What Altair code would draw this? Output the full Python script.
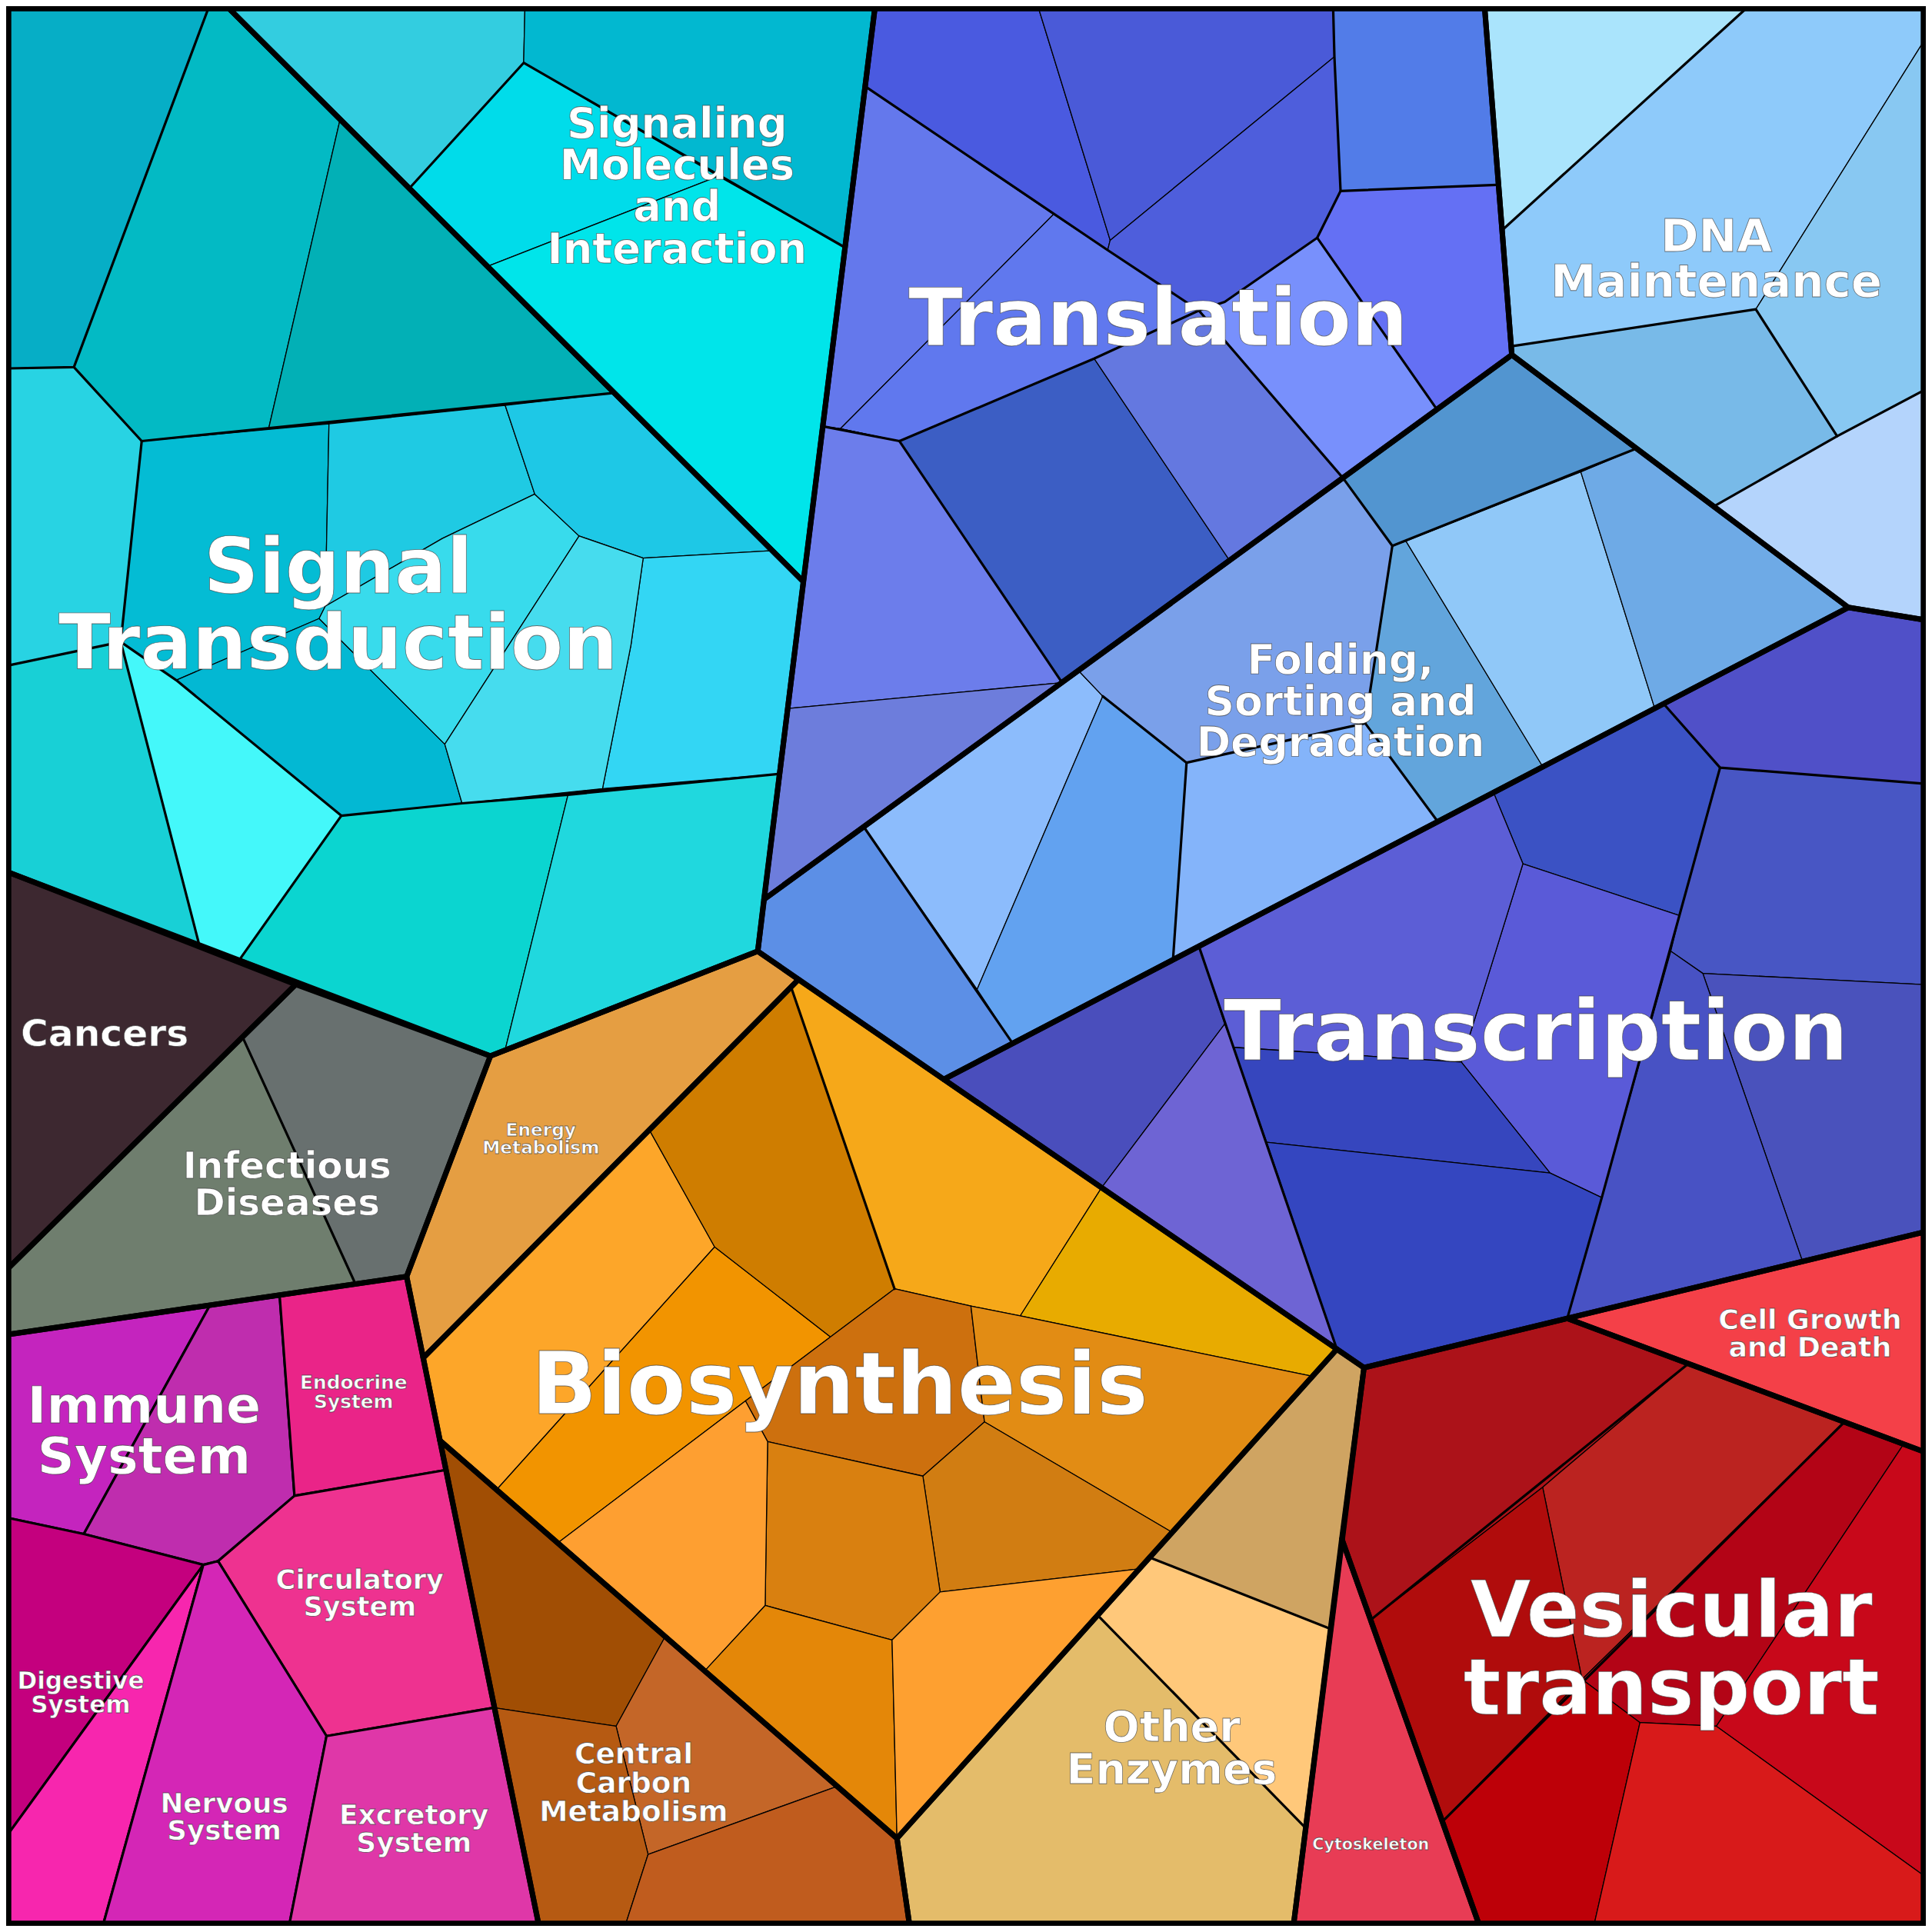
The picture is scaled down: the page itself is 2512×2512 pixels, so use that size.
import altair as alt

# ---------------- scale (picture units -> chart pixels) ----------------
K = 2512 / 1568.0
OFF = 8.0
W = 2496
LO = OFF / K
HI = (W + OFF) / K

# ---------------- data: cells (polygon vertices) ----------------
SIGNAL_COLORS = ["#06aec6", "#03bac4", "#02b0b6", "#28d3e3", "#18d0d6", "#44f8fa", "#04bcd4",
                 "#03b8d3", "#1fcae3", "#38dbec", "#1ec8e6", "#33d6f4", "#46dcee", "#0bd5d0", "#20d8de"]
SIGNAL_CELLS = [
    [(7, 7), (169, 7), (60, 298), (7, 299)],
    [(169, 7), (186, 7), (276, 97), (218, 348), (115, 358), (60, 298)],
    [(276, 97), (497, 319), (218, 348)],
    [(7, 299), (60, 298), (115, 358), (98, 521), (7, 540)],
    [(7, 540), (98, 521), (162, 768), (7, 708)],
    [(98, 521), (143, 552), (277, 662), (195, 778), (162, 768)],
    [(115, 358), (267, 344), (264, 492), (259, 502), (143, 552), (98, 521)],
    [(143, 552), (259, 502), (361, 604), (375, 652), (277, 662)],
    [(267, 344), (410, 329), (434, 401), (359, 437), (264, 492)],
    [(264, 492), (359, 437), (434, 401), (470, 435), (361, 604), (259, 502)],
    [(410, 329), (497, 319), (625, 447), (522, 453), (470, 435), (434, 401)],
    [(522, 453), (625, 447), (652, 472), (633, 628), (489, 640), (512, 524)],
    [(470, 435), (522, 453), (512, 524), (489, 640), (375, 652), (361, 604)],
    [(277, 662), (375, 652), (461, 645), (410, 852), (398, 857), (195, 778)],
    [(461, 645), (633, 628), (615, 772), (410, 852)],
]
SIGMOL_COLORS = ["#33cde0", "#02b8d0", "#00dcea", "#00e5ea"]
SIGMOL_CELLS = [
    [(186, 7), (426, 7), (425, 51), (333, 152)],
    [(426, 7), (710, 7), (686, 201), (583, 143), (425, 51)],
    [(425, 51), (583, 143), (396, 216), (333, 152)],
    [(396, 216), (583, 143), (686, 201), (652, 472)],
]
DISEASE_COLORS = ["#3d2830", "#68706f", "#6f7e6e"]
DISEASE_CELLS = [
    [(7, 708), (240, 799), (7, 1029)],
    [(240, 799), (398, 857), (330, 1036), (288, 1041), (197, 842)],
    [(197, 842), (288, 1041), (7, 1083), (7, 1029)],
]
ORGANISM_COLORS = ["#c424be", "#bf2dae", "#ea2488", "#ee3290", "#c4007e", "#f726ae", "#d426b6", "#df37a8"]
ORGANISM_CELLS = [
    [(7, 1083), (170, 1060), (68, 1245), (7, 1232)],
    [(170, 1060), (227, 1052), (239, 1214), (177, 1267), (165, 1270), (68, 1245)],
    [(227, 1052), (330, 1036), (362, 1193), (239, 1214)],
    [(239, 1214), (362, 1193), (401, 1386), (265, 1409), (177, 1267)],
    [(7, 1232), (68, 1245), (165, 1270), (7, 1488)],
    [(165, 1270), (84, 1561), (7, 1561), (7, 1488)],
    [(165, 1270), (177, 1267), (265, 1409), (235, 1561), (84, 1561)],
    [(265, 1409), (401, 1386), (437, 1561), (235, 1561)],
]
ENERGY_COLORS = ["#e59e42"]
ENERGY_CELLS = [
    [(330, 1036), (398, 857), (615, 772), (648, 795), (343.5, 1102)],
]
BIOSYN_COLORS = ["#fda629", "#f29400", "#cf7d00", "#f6a819", "#e8ab00", "#cd700e",
                 "#e28c14", "#d17d12", "#d98010", "#fe9f31", "#e48708", "#fea030"]
BIOSYN_CELLS = [
    [(343.5, 1102), (527, 917), (580, 1012), (404, 1208), (357, 1169)],
    [(404, 1208), (580, 1012), (674, 1085), (605, 1137), (453, 1252)],
    [(527, 917), (642, 801), (726, 1046), (674, 1085), (580, 1012)],
    [(642, 801), (648, 795), (894, 964), (828, 1068), (788, 1060), (726, 1046)],
    [(894, 964), (1085, 1095), (1065, 1117), (828, 1068)],
    [(674, 1085), (726, 1046), (788, 1060), (799, 1154), (749, 1198), (623, 1170), (605, 1137)],
    [(788, 1060), (828, 1068), (1065, 1117), (952, 1244), (799, 1154)],
    [(799, 1154), (952, 1244), (927, 1273), (763, 1292), (749, 1198)],
    [(623, 1170), (749, 1198), (763, 1292), (724, 1331), (621, 1303)],
    [(453, 1252), (605, 1137), (623, 1170), (621, 1303), (572, 1356)],
    [(621, 1303), (724, 1331), (728, 1492), (572, 1356)],
    [(724, 1331), (763, 1292), (927, 1273), (728, 1492)],
]
CARBON_COLORS = ["#a14e04", "#c46628", "#b65a12", "#c05c1e"]
CARBON_CELLS = [
    [(357, 1169), (540, 1328), (500, 1401), (401, 1386), (362, 1193)],
    [(540, 1328), (679, 1450), (526, 1505), (500, 1401)],
    [(401, 1386), (500, 1401), (526, 1505), (508, 1561), (437, 1561)],
    [(526, 1505), (679, 1450), (728, 1492), (738, 1561), (508, 1561)],
]
ENZYME_COLORS = ["#cfa462", "#ffc87a", "#e4bc6a"]
ENZYME_CELLS = [
    [(1085, 1095), (1107, 1110), (1080, 1322), (933, 1264)],
    [(933, 1264), (1080, 1322), (1060, 1484), (891, 1311)],
    [(891, 1311), (1060, 1484), (1050, 1561), (738, 1561), (728, 1492)],
]
TRANSL_COLORS = ["#4a5ae0", "#4a5ad8", "#4e5edc", "#6478ec", "#6078ee", "#7890fc",
                 "#3c5ec4", "#6470f4", "#527ce8", "#6478e0", "#6c7deb", "#6d7ddc"]
TRANSL_CELLS = [
    [(710, 7), (843, 7), (901, 195), (899, 203), (702, 70)],
    [(843, 7), (1082, 7), (1083, 46), (901, 195)],
    [(901, 195), (1083, 46), (1088, 155), (1069, 193), (994, 245), (973, 252), (899, 203)],
    [(702, 70), (855, 174), (682, 348), (668, 346)],
    [(855, 174), (899, 203), (973, 252), (888, 291), (730, 358), (682, 348)],
    [(1069, 193), (1166, 332), (1090, 388), (973, 252), (994, 245)],
    [(730, 358), (888, 291), (998, 455), (862, 554)],
    [(1088, 155), (1215, 150), (1227, 288), (1166, 332), (1069, 193)],
    [(1082, 7), (1205, 7), (1215, 150), (1088, 155), (1083, 46)],
    [(888, 291), (973, 252), (1090, 388), (998, 455)],
    [(668, 346), (682, 348), (730, 358), (862, 554), (640, 575)],
    [(640, 575), (862, 554), (620, 730)],
]
DNA_COLORS = ["#aae4fc", "#8ecafa", "#88c8f2", "#78bae8", "#b4d4fc"]
DNA_CELLS = [
    [(1205, 7), (1417, 7), (1220, 186)],
    [(1417, 7), (1561, 7), (1561, 34), (1425, 251), (1227, 281), (1220, 186)],
    [(1561, 34), (1561, 317), (1491, 354), (1425, 251)],
    [(1227, 281), (1425, 251), (1491, 354), (1391, 411), (1227, 288)],
    [(1491, 354), (1561, 317), (1561, 503), (1500, 493), (1391, 411)],
]
FOLD_COLORS = ["#5c8fe6", "#8cbcfc", "#62a2f0", "#7aa0ea", "#84b4fa", "#62a5dc", "#90c8f8", "#6eaae6", "#5295d0"]
FOLD_CELLS = [
    [(620, 730), (701, 671), (822, 847), (766, 876), (615, 772)],
    [(701, 671), (875, 544), (895, 565), (793, 803)],
    [(895, 565), (963, 619), (952, 779), (822, 847), (793, 803)],
    [(875, 544), (1090, 388), (1130, 443), (1108, 587), (963, 619), (895, 565)],
    [(963, 619), (1108, 587), (1167, 667), (952, 779)],
    [(1130, 443), (1141, 439), (1252, 622), (1167, 667), (1108, 587)],
    [(1141, 439), (1283, 383), (1343, 575), (1252, 622)],
    [(1283, 383), (1328, 364), (1500, 493), (1343, 575)],
    [(1227, 288), (1328, 364), (1141, 439), (1130, 443), (1090, 388)],
]
TRANSC_COLORS = ["#5050c8", "#3b52c4", "#4856c4", "#4a52bc", "#4852c4", "#5a5ad8",
                 "#5c5ed6", "#4a4ebc", "#6e64d4", "#3646be", "#3446c0"]
TRANSC_CELLS = [
    [(1350, 571), (1500, 493), (1561, 503), (1561, 636), (1396, 623)],
    [(1350, 571), (1396, 623), (1363, 743), (1236, 701), (1212, 643)],
    [(1396, 623), (1561, 636), (1561, 799), (1382, 790), (1356, 772), (1363, 743)],
    [(1382, 790), (1561, 799), (1561, 1000), (1463, 1024)],
    [(1356, 772), (1382, 790), (1463, 1024), (1272, 1070), (1300, 972)],
    [(1236, 701), (1363, 743), (1300, 972), (1258, 952), (1186, 862)],
    [(973, 768), (1212, 643), (1236, 701), (1186, 862), (1001, 850)],
    [(766, 876), (973, 768), (994, 831), (894, 964)],
    [(894, 964), (994, 831), (1001, 850), (1085, 1095)],
    [(1001, 850), (1186, 862), (1258, 952), (1028, 927)],
    [(1028, 927), (1258, 952), (1300, 972), (1272, 1070), (1107, 1110), (1085, 1095)],
]
VESIC_COLORS = ["#ac1219", "#bb2320", "#b00c0c", "#b30416", "#c8081a", "#bd0008", "#d81a1a", "#e83c55", "#f44048"]
VESIC_CELLS = [
    [(1107, 1110), (1272, 1070), (1370, 1107), (1252, 1207), (1112, 1315), (1089, 1249)],
    [(1370, 1107), (1497, 1154), (1284, 1363), (1252, 1207)],
    [(1252, 1207), (1284, 1363), (1171, 1478), (1112, 1315)],
    [(1497, 1154), (1545, 1172), (1393, 1401), (1331, 1398), (1284, 1363)],
    [(1545, 1172), (1561, 1178), (1561, 1522), (1393, 1401)],
    [(1171, 1478), (1284, 1363), (1331, 1398), (1294, 1561), (1200, 1561)],
    [(1331, 1398), (1393, 1401), (1561, 1522), (1561, 1561), (1294, 1561)],
    [(1089, 1249), (1171, 1478), (1200, 1561), (1050, 1561)],
    [(1272, 1070), (1463, 1024), (1561, 1000), (1561, 1178)],
]

# group outlines (thick boundaries)
GROUP_OUTLINES = [
    [(7, 7), (186, 7), (652, 472), (615, 772), (398, 857), (7, 708)],
    [(186, 7), (710, 7), (652, 472)],
    [(7, 708), (240, 799), (7, 1029)],
    [(240, 799), (398, 857), (330, 1036), (7, 1083), (7, 1029)],
    [(7, 1083), (330, 1036), (437, 1561), (7, 1561)],
    [(330, 1036), (398, 857), (615, 772), (648, 795), (343.5, 1102)],
    [(343.5, 1102), (648, 795), (1085, 1095), (728, 1492), (357, 1169)],
    [(357, 1169), (728, 1492), (738, 1561), (437, 1561)],
    [(1085, 1095), (1107, 1110), (1050, 1561), (738, 1561), (728, 1492)],
    [(710, 7), (1205, 7), (1227, 288), (620, 730)],
    [(1205, 7), (1561, 7), (1561, 503), (1500, 493), (1227, 288)],
    [(1227, 288), (1500, 493), (766, 876), (615, 772), (620, 730)],
    [(766, 876), (1500, 493), (1561, 503), (1561, 1000), (1107, 1110)],
    [(1107, 1110), (1272, 1070), (1561, 1178), (1561, 1561), (1200, 1561), (1089, 1249)],
    [(1272, 1070), (1561, 1000), (1561, 1178)],
    [(1089, 1249), (1200, 1561), (1050, 1561)],
]

# sub-group boundaries (medium lines)
MEDIUM_LINES = [
    [(169, 7), (60, 298), (7, 299)],
    [(60, 298), (115, 358), (497, 319)],
    [(115, 358), (98, 521), (162, 768)],
    [(7, 540), (98, 521), (143, 552), (277, 662), (195, 778)],
    [(277, 662), (375, 652), (461, 645), (633, 628)],
    [(333, 152), (425, 51), (686, 201)],
    [(197, 842), (288, 1041)],
    [(642, 801), (726, 1046)],
    [(933, 1264), (1080, 1322)],
    [(891, 1311), (1060, 1484)],
    [(702, 70), (899, 203), (973, 252)],
    [(668, 346), (730, 358), (888, 291), (973, 252)],
    [(730, 358), (862, 554)],
    [(1082, 7), (1083, 46), (1088, 155), (1069, 193), (994, 245), (973, 252)],
    [(1088, 155), (1215, 150)],
    [(1069, 193), (1166, 332)],
    [(973, 252), (1090, 388)],
    [(701, 671), (822, 847)],
    [(895, 565), (963, 619), (952, 779)],
    [(963, 619), (1108, 587), (1167, 667)],
    [(1090, 388), (1130, 443), (1108, 587)],
    [(1130, 443), (1328, 364)],
    [(1220, 186), (1417, 7)],
    [(1227, 281), (1425, 251), (1491, 354), (1391, 411)],
    [(1491, 354), (1561, 317)],
    [(1350, 571), (1396, 623), (1561, 636)],
    [(1396, 623), (1300, 972), (1272, 1070)],
    [(973, 768), (1085, 1095)],
    [(1370, 1107), (1112, 1315)],
    [(1497, 1154), (1171, 1478)],
]

# labels (one entry per category; "\n" separates lines)
LABEL_TEXT = ["Signal\nTransduction", "Signaling\nMolecules\nand\nInteraction", "Translation",
              "DNA\nMaintenance", "Folding,\nSorting and\nDegradation", "Transcription", "Cancers",
              "Infectious\nDiseases", "Energy\nMetabolism", "Biosynthesis", "Immune\nSystem",
              "Endocrine\nSystem", "Circulatory\nSystem", "Digestive\nSystem", "Nervous\nSystem",
              "Excretory\nSystem", "Central\nCarbon\nMetabolism", "Other\nEnzymes",
              "Cell Growth\nand Death", "Vesicular\ntransport", "Cytoskeleton"]
LABEL_X = [274.5, 549.5, 940, 1393, 1088, 1246.5, 85, 233, 439, 681.5, 117, 287, 292, 65.5,
           182, 336, 514.3, 951, 1469, 1356.5, 1112.5]
LABEL_Y = [481, 111.5, 280, 204, 547, 860, 849, 956, 922, 1147, 1154.6, 1127.2, 1289.4,
           1370.7, 1471, 1480.7, 1431.6, 1413.2, 1078.7, 1328, 1501.1]
LABEL_SIZE = [62.3, 33.9, 64.5, 37.1, 33.4, 68.4, 30.4, 30.2, 14.5, 70, 41.6, 15.5, 22, 19.4,
              22.3, 22.5, 23.4, 34.6, 22.7, 63.4, 12.9]

# ---------------- build GeoJSON features ----------------
THIN, MEDIUM, THICK = 1.3, 3.2, 7.0


def ring(pts):
    r = [[float(x), float(y)] for x, y in pts]
    return r + [r[0]]


def polygon(pts, **props):
    return {"type": "Feature", "geometry": {"type": "Polygon", "coordinates": [ring(pts)]},
            "properties": props}


def line(pts, **props):
    return {"type": "Feature",
            "geometry": {"type": "LineString", "coordinates": [[float(x), float(y)] for x, y in pts]},
            "properties": props}


groups = [
    (SIGNAL_COLORS, SIGNAL_CELLS, THIN), (SIGMOL_COLORS, SIGMOL_CELLS, THIN),
    (DISEASE_COLORS, DISEASE_CELLS, THIN), (ORGANISM_COLORS, ORGANISM_CELLS, MEDIUM),
    (ENERGY_COLORS, ENERGY_CELLS, THIN), (BIOSYN_COLORS, BIOSYN_CELLS, THIN),
    (CARBON_COLORS, CARBON_CELLS, THIN), (ENZYME_COLORS, ENZYME_CELLS, THIN),
    (TRANSL_COLORS, TRANSL_CELLS, THIN), (DNA_COLORS, DNA_CELLS, THIN),
    (FOLD_COLORS, FOLD_CELLS, THIN), (TRANSC_COLORS, TRANSC_CELLS, THIN),
    (VESIC_COLORS, VESIC_CELLS, THIN),
]
cell_features = []
for colors, cells, sw in groups:
    for c, pts in zip(colors, cells):
        cell_features.append(polygon(pts, fill=c, sw=sw))

background = [polygon([(LO, LO), (HI, LO), (HI, HI), (LO, HI)], fill="#000000", sw=0)]
medium_features = [line(p, k="m") for p in MEDIUM_LINES]
outline_features = [polygon(p, k="g") for p in GROUP_OUTLINES]

labels = [{"t": t, "x": x, "y": y, "s": s * K}
          for t, x, y, s in zip(LABEL_TEXT, LABEL_X, LABEL_Y, LABEL_SIZE)]

PROJ = dict(type="identity", scale=K, translate=[-OFF, -OFF])

bg = alt.Chart(alt.Data(values=background)).mark_geoshape(
    fill="#000000", strokeWidth=0).project(**PROJ)

cells = alt.Chart(alt.Data(values=cell_features)).mark_geoshape(
    stroke="#000000", strokeJoin="round").encode(
    fill=alt.Fill("properties.fill:N", scale=None),
    strokeWidth=alt.StrokeWidth("properties.sw:Q", scale=None),
).project(**PROJ)

medium = alt.Chart(alt.Data(values=medium_features)).mark_geoshape(
    filled=False, stroke="#000000", strokeWidth=MEDIUM, strokeJoin="round",
    strokeCap="round").project(**PROJ)

outlines = alt.Chart(alt.Data(values=outline_features)).mark_geoshape(
    filled=False, stroke="#000000", strokeWidth=THICK, strokeJoin="round").project(**PROJ)

text = alt.Chart(alt.Data(values=labels)).mark_text(
    font="DejaVu Sans", fontWeight="bold", align="center", baseline="alphabetic",
    lineBreak="\n", lineHeight={"expr": "datum.s"},
    color="#ffffff", stroke="#3a3a3a", strokeWidth=0.8, strokeOpacity=0.7).encode(
    longitude="x:Q", latitude="y:Q", text="t:N", size=alt.Size("s:Q", scale=None)).project(**PROJ)

chart = alt.layer(bg, cells, medium, outlines, text).properties(
    width=W, height=W, padding=0, autosize=alt.AutoSizeParams(type="none"),
    background="#000000",
).configure_view(stroke=None)

chart.save("out.html", embed_options={"renderer": "svg", "actions": False})
